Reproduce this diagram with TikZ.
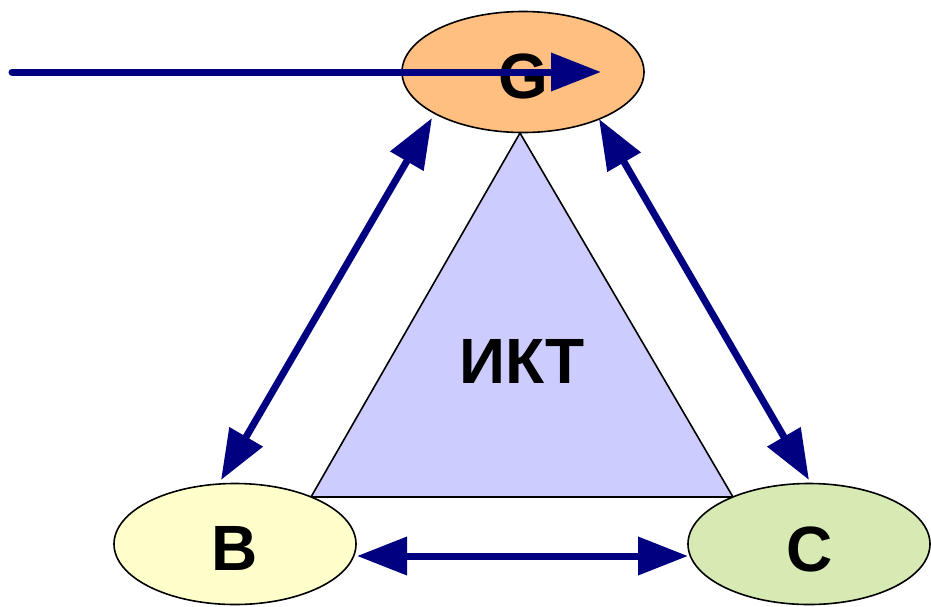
\documentclass[tikz,border=0pt]{standalone}
\usepackage{fontspec}
\setmainfont{Liberation Sans}
\usetikzlibrary{shapes.geometric,arrows.meta}
\definecolor{gfill}{HTML}{FFBF80}
\definecolor{bfill}{HTML}{FFFFCC}
\definecolor{cfill}{HTML}{D7EAB4}
\definecolor{tfill}{HTML}{CCCCFF}
\definecolor{navy}{HTML}{000080}
\tikzset{
  oval/.style={ellipse, draw=black, line width=1.6pt, minimum width=242pt, minimum height=121pt, inner sep=0pt},
  lbl/.style={font=\bfseries\fontsize{64}{64}\selectfont, text=black, inner sep=0pt},
  conn/.style={draw=navy, line width=7pt, -{Triangle[length=50pt,width=37pt]}},
  bconn/.style={draw=navy, line width=7pt, {Triangle[length=50pt,width=37pt]}-{Triangle[length=50pt,width=37pt]}},
}
\begin{document}
\begin{tikzpicture}[x=1pt,y=-1pt]
\useasboundingbox (0,0) rectangle (931,606);
% triangle
\coordinate (ta) at (520,133);
\coordinate (tl) at (311,497);
\coordinate (tr) at (733,497);
\filldraw[fill=tfill, draw=black, line width=1.6pt, line join=miter] (ta) -- (tl) -- (tr) -- cycle;
\node[lbl] (ikt) at (522,361) {ИКТ};
% ellipses
\node[oval, fill=gfill] (G) at (523,72) {};
\node[oval, fill=bfill] (B) at (235,544) {};
\node[oval, fill=cfill] (C) at (809,544) {};
\node[lbl] (gt) at (523,76) {G};
\node[lbl] (bt) at (235,548) {B};
\node[lbl] (ct) at (810,549) {C};
% connector end points
\coordinate (start) at (12,72);
\coordinate (gin) at (601,72);
\coordinate (gl) at (432,118);
\coordinate (bg) at (221,480);
\coordinate (gr) at (599,119);
\coordinate (cg) at (809,480);
\coordinate (bc) at (357,556);
\coordinate (cb) at (688,556);
% connectors
\draw[conn, line cap=round] (start) -- (gin);
\draw[bconn] (gl) -- (bg);
\draw[bconn] (gr) -- (cg);
\draw[bconn] (bc) -- (cb);
\end{tikzpicture}
\end{document}
